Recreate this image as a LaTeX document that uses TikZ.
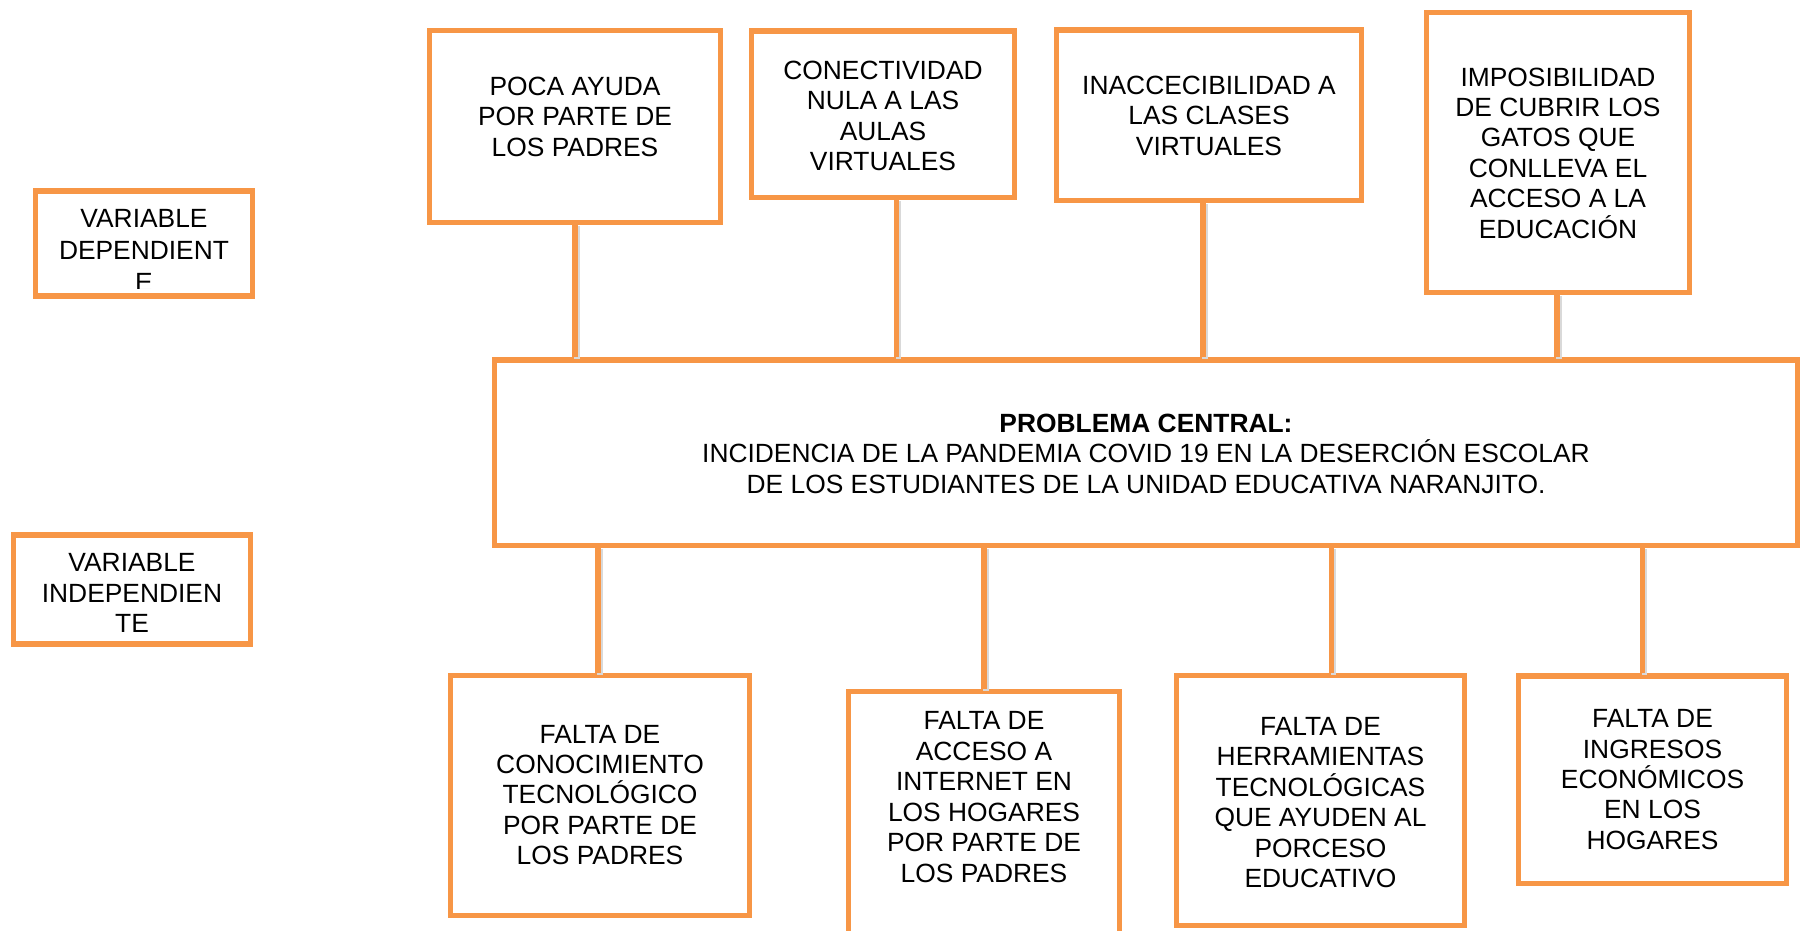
\documentclass[tikz,border=0pt]{standalone}
\usepackage{fontspec}
\setmainfont{Liberation Sans}
\usepackage{tikz}
\usetikzlibrary{positioning}
\definecolor{naranja}{RGB}{247,150,70}
\tikzset{
  caja/.style={rectangle, draw=naranja, line width=1.45pt, fill=white, inner sep=0pt},
  texto/.style={align=center, font=\fontsize{7.5}{8.65}\selectfont, inner sep=0pt},
  enlace/.style={draw=naranja, line width=1.45pt,
                 preaction={draw=black!15, line width=1.6pt, transform canvas={shift={(0.6pt,-0.4pt)}}}},
}

\begin{document}
\begin{tikzpicture}[x=0.01cm, y=-0.01cm]
\clip (0,0) rectangle (1803,930);
\fill[white] (0,0) rectangle (1803,930);

% variables
\node[caja, minimum width=2.16cm, minimum height=1.05cm] (vd) at (144,243.5) {};
\node[caja, minimum width=2.36cm, minimum height=1.09cm] (vi) at (132,589.5) {};
\begin{scope}
  \clip (38,193) rectangle (250,288);
  \node[texto, font=\fontsize{7.5}{9.1}\selectfont] (vdt) at (144,250) {VARIABLE\\DEPENDIENT\\E};
\end{scope}
\node[texto] (vit) at (132,593) {VARIABLE\\INDEPENDIEN\\TE};

% efectos (arriba)
\node[caja, minimum width=2.90cm, minimum height=1.91cm] (c1) at (575,126.5) {};
\node[caja, minimum width=2.62cm, minimum height=1.66cm] (c2) at (883,114) {};
\node[caja, minimum width=3.04cm, minimum height=1.70cm] (c3) at (1209,115) {};
\node[caja, minimum width=2.62cm, minimum height=2.79cm] (c4) at (1558,152.5) {};
\node[texto] (c1t) at (575,116.5) {POCA AYUDA\\POR PARTE DE\\LOS PADRES};
\node[texto] (c2t) at (883,116) {CONECTIVIDAD\\NULA A LAS\\AULAS\\VIRTUALES};
\node[texto] (c3t) at (1209,115.5) {INACCECIBILIDAD A\\LAS CLASES\\VIRTUALES};
\node[texto] (c4t) at (1558,153) {IMPOSIBILIDAD\\DE CUBRIR LOS\\GATOS QUE\\CONLLEVA EL\\ACCESO A LA\\EDUCACIÓN};

% problema central
\node[caja, minimum width=13.02cm, minimum height=1.85cm] (pc) at (1146,452.5) {};
\node[texto] (pct) at (1146,453.5) {\textbf{PROBLEMA CENTRAL:}\\INCIDENCIA DE LA PANDEMIA COVID 19 EN LA DESERCIÓN ESCOLAR\\DE LOS ESTUDIANTES DE LA UNIDAD EDUCATIVA NARANJITO.};

% causas (abajo)
\node[caja, minimum width=2.98cm, minimum height=2.39cm] (e1) at (600,795.5) {};
\node[caja, minimum width=2.70cm, minimum height=2.78cm] (e2) at (984,831) {};
\node[caja, minimum width=2.87cm, minimum height=2.49cm] (e3) at (1320.5,800.5) {};
\node[caja, minimum width=2.67cm, minimum height=2.07cm] (e4) at (1652.5,779.5) {};
\node[texto] (e1t) at (600,795) {FALTA DE\\CONOCIMIENTO\\TECNOLÓGICO\\POR PARTE DE\\LOS PADRES};
\node[texto] (e2t) at (984,797) {FALTA DE\\ACCESO A\\INTERNET EN\\LOS HOGARES\\POR PARTE DE\\LOS PADRES};
\node[texto] (e3t) at (1320.5,802.5) {FALTA DE\\HERRAMIENTAS\\TECNOLÓGICAS\\QUE AYUDEN AL\\PORCESO\\EDUCATIVO};
\node[texto] (e4t) at (1652.5,779.5) {FALTA DE\\INGRESOS\\ECONÓMICOS\\EN LOS\\HOGARES};

% conectores
\foreach \n/\dx in {c1/0, c2/0.135cm, c3/-0.06cm, c4/-0.01cm}
  \draw[enlace] ([xshift=\dx]\n.south) -- ([xshift=\dx]\n.south |- pc.north);
\foreach \n/\dx in {e1/-0.02cm, e2/0, e3/0.11cm, e4/-0.1cm}
  \draw[enlace] ([xshift=\dx]\n.north) -- ([xshift=\dx]\n.north |- pc.south);
\end{tikzpicture}
\end{document}
